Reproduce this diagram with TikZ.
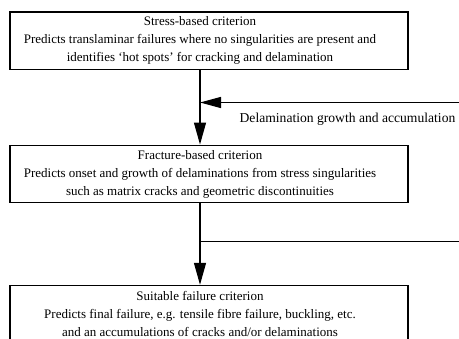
\documentclass[tikz,border=0pt]{standalone}
\usepackage{fontspec}
\setmainfont{Liberation Serif}
\usetikzlibrary{arrows.meta}
\begin{document}
\begin{tikzpicture}[x=1pt,y=-1pt,
  box/.style={draw, line width=1.4pt, minimum width=398pt, minimum height=57.5pt, inner sep=0pt},
  txt/.style={align=center, font=\fontsize{13}{18}\selectfont, inner sep=0pt},
  conn/.style={line width=1.3pt},
  headed/.style={-{Triangle[length=22pt,width=12pt]}},
  headedb/.style={-{Triangle[length=21pt,width=11pt]}}
]
\useasboundingbox (0,0) rectangle (459,339);
% boxes
\node[box] (b1) at (209,40.75) {};
\node[txt] (t1) at (200,40.75) {Stress-based criterion\\Predicts translaminar failures where no singularities are present and\\identifies ‘hot spots’ for cracking and delamination};
\node[box] (b2) at (209,174) {};
\node[txt] (t2) at (200,174) {Fracture-based criterion\\Predicts onset and growth of delaminations from stress singularities\\such as matrix cracks and geometric discontinuities};
\node[box] (b3) at (209,314.25) {};
\node[txt] (t3) at (200,314.25) {Suitable failure criterion\\Predicts final failure, e.g. tensile fibre failure, buckling, etc.\\and an accumulations of cracks and/or delaminations};
% connectors
\draw[conn,headed] (b1.south -| t1) -- (b2.north -| t2);
\coordinate (f1) at (459,102.5);
\draw[conn,headedb] (f1) -- (f1 -| t1);
\node[txt, font=\fontsize{13.6}{18}\selectfont, anchor=base] (lab) at (347.5,122.5) {Delamination growth and accumulation};
\draw[conn,headed] (b2.south -| t2) -- (b3.north -| t3);
\coordinate (f2) at (459,241.5);
\draw[conn] (f2) -- (f2 -| t2);
\end{tikzpicture}
\end{document}
